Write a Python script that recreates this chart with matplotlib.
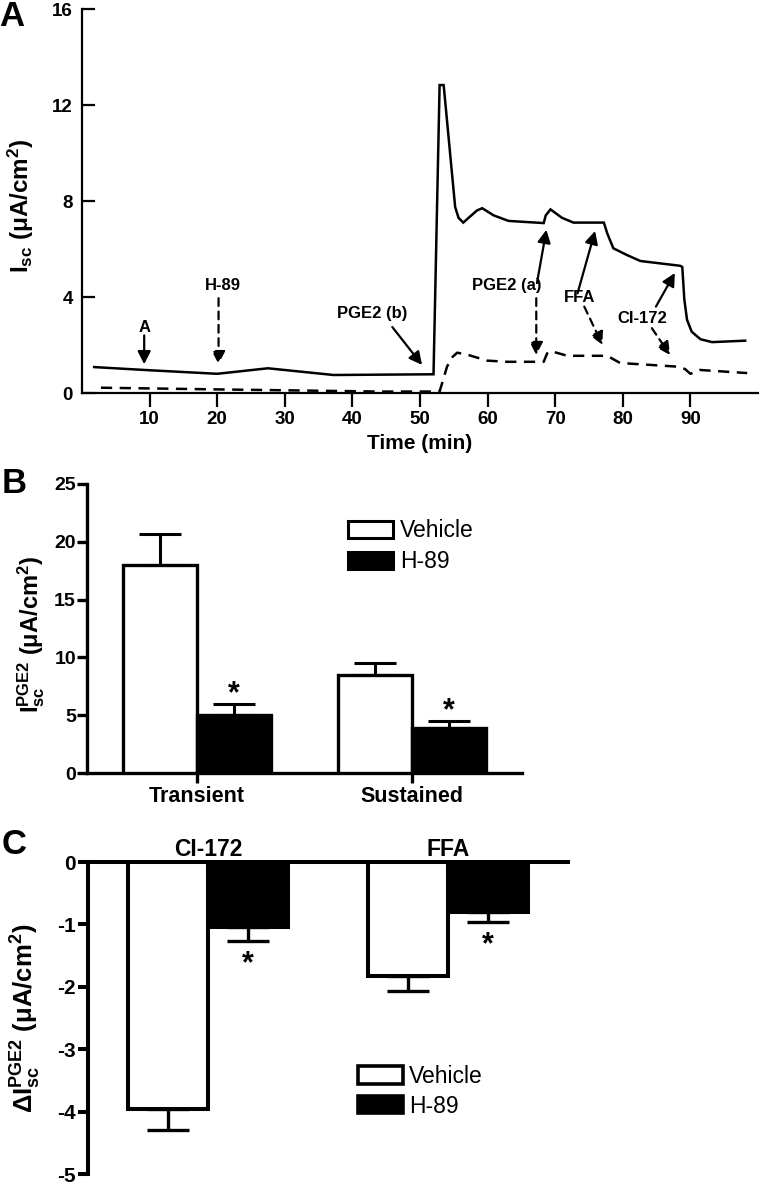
import matplotlib
matplotlib.use("Agg")
import matplotlib.pyplot as plt
from matplotlib.patches import Patch
import numpy as np

plt.rcParams['font.family'] = ['Liberation Sans', 'DejaVu Sans']
plt.rcParams['mathtext.fontset'] = 'custom'
plt.rcParams['mathtext.rm'] = 'Liberation Sans:bold'
plt.rcParams['mathtext.bf'] = 'Liberation Sans:bold'
plt.rcParams['mathtext.it'] = 'Liberation Sans:bold'
plt.rcParams['mathtext.sf'] = 'Liberation Sans:bold'
plt.rcParams['axes.unicode_minus'] = False

# ---------------- Data: panel A (traces) ----------------
solid_t = [1.8, 9.2, 20.0, 27.5, 37.2, 52.0, 52.9, 53.5, 55.2, 55.7, 56.4, 58.4, 59.2,
           60.9, 63.1, 68.3, 68.6, 69.3, 71.0, 72.7, 77.2, 77.7, 78.6, 80.6, 82.6,
           88.5, 88.8, 89.1, 89.5, 90.2, 91.5, 93.2, 98.1]
solid_v = [1.08, 0.96, 0.80, 1.03, 0.75, 0.78, 12.83, 12.83, 7.75, 7.3, 7.1, 7.6, 7.7,
           7.4, 7.17, 7.08, 7.4, 7.65, 7.3, 7.1, 7.1, 6.65, 6.03, 5.75, 5.5,
           5.3, 5.25, 3.9, 3.05, 2.55, 2.24, 2.12, 2.18]
dashed_t = [2.8, 20.0, 44.2, 52.9, 54.0, 54.8, 55.5, 57.2, 59.9, 62.9, 68.3, 68.8, 69.3,
            71.8, 77.7, 79.6, 88.0, 89.2, 90.0, 91.4, 98.4]
dashed_v = [0.22, 0.15, 0.06, 0.06, 1.1, 1.5, 1.68, 1.58, 1.35, 1.3, 1.3, 1.65, 1.75,
            1.55, 1.55, 1.25, 1.1, 1.0, 0.8, 0.96, 0.83]
a_xticks = [10, 20, 30, 40, 50, 60, 70, 80, 90]
a_yticks = [0, 4, 8, 12, 16]

# annotation labels: (text, t, value)
a_labels = [("A", 9.2, 2.75), ("H-89", 20.8, 4.46), ("PGE2 (b)", 43.0, 3.33),
            ("PGE2 (a)", 62.8, 4.46), ("FFA", 73.6, 4.0), ("CI-172", 82.9, 3.1)]
# arrows: (tail_t, tail_v, head_t, head_v, dashed)
a_arrows = [(9.2, 2.4, 9.2, 1.2, False),
            (20.2, 3.95, 20.2, 1.2, True),
            (45.9, 2.75, 50.3, 1.17, False),
            (67.3, 4.58, 68.7, 6.8, False),
            (67.2, 3.95, 67.2, 1.58, True),
            (73.3, 4.15, 75.9, 6.75, False),
            (74.3, 3.6, 77.0, 2.0, True),
            (84.9, 3.6, 87.7, 5.0, False),
            (84.3, 2.7, 87.0, 1.58, True)]

# ---------------- Data: panel B ----------------
b_categories = ["Transient", "Sustained"]
b_vehicle = [18.0, 8.5]
b_vehicle_err = [2.7, 1.05]
b_h89 = [5.0, 3.85]
b_h89_err = [1.0, 0.65]
b_yticks = [0, 5, 10, 15, 20, 25]

# ---------------- Data: panel C ----------------
c_categories = ["CI-172", "FFA"]
c_vehicle = [-3.96, -1.83]
c_vehicle_err = [0.34, 0.23]
c_h89 = [-1.04, -0.80]
c_h89_err = [0.22, 0.16]
c_yticks = [0, -1, -2, -3, -4, -5]

W, H = 759, 1186
fig = plt.figure(figsize=(W / 100, H / 100), dpi=100)

def px_axes(l, t, r, b):
    return fig.add_axes([l / W, 1 - b / H, (r - l) / W, (b - t) / H])

# ================= Panel A =================
axA = px_axes(82, 9, 758, 393)
axA.plot(solid_t, solid_v, color='black', lw=1.8, solid_joinstyle='miter')
axA.plot(dashed_t, dashed_v, color='black', lw=1.8, linestyle=(0, (4.5, 3)))
axA.set_xlim(0, 100)
axA.set_ylim(0, 16)
axA.set_xticks(a_xticks)
axA.set_yticks(a_yticks)
for s in ['top', 'right']:
    axA.spines[s].set_visible(False)
for s in ['left', 'bottom']:
    axA.spines[s].set_linewidth(1.6)
axA.tick_params(axis='y', direction='in', length=9.5, width=1.6, pad=6.5, labelsize=13.5)
axA.tick_params(axis='x', direction='out', length=10, width=1.6, pad=3, labelsize=13.5)
for lab in axA.get_xticklabels() + axA.get_yticklabels():
    lab.set_fontweight('bold')
axA.set_xlabel("Time (min)", fontsize=15, fontweight='bold', labelpad=4)
axA.set_ylabel(r"I$_{sc}$ (μA/cm$^{2}$)", fontsize=17.5, fontweight='bold')
axA.yaxis.set_label_coords(-0.068, 0.487)
for txt, tx, ty in a_labels:
    axA.text(tx, ty, txt, ha='center', va='center', fontsize=12, fontweight='bold')
for t0, v0, t1, v1, dashed in a_arrows:
    axA.annotate('', xy=(t1, v1), xytext=(t0, v0),
                 arrowprops=dict(arrowstyle='-|>,head_length=0.55,head_width=0.28',
                                 mutation_scale=14, lw=1.6, color='black',
                                 linestyle=(0, (3.5, 2.5)) if dashed else '-',
                                 shrinkA=0, shrinkB=0))

# ================= Panel B =================
axB = px_axes(87, 484, 522, 773)
xb = np.arange(len(b_categories))
wb = 0.345
axB.bar(xb - wb / 2, b_vehicle, width=wb, facecolor='white', edgecolor='black', lw=2.4,
        label='Vehicle', zorder=3)
axB.bar(xb + wb / 2, b_h89, width=wb, facecolor='black', edgecolor='black', lw=2.4,
        label='H-89', zorder=3)
axB.errorbar(xb - wb / 2, b_vehicle, yerr=[np.zeros(2), b_vehicle_err], fmt='none',
             ecolor='black', elinewidth=2.2, capsize=15, capthick=2.2, zorder=2)
axB.errorbar(xb + wb / 2, b_h89, yerr=[np.zeros(2), b_h89_err], fmt='none',
             ecolor='black', elinewidth=2.2, capsize=15, capthick=2.2, zorder=2)
for xi, v, e in zip(xb, b_h89, b_h89_err):
    axB.annotate('*', xy=(xi + wb / 2, v + e), xytext=(0, 1), textcoords='offset points',
                 ha='center', va='baseline', fontsize=22, fontweight='bold')
axB.set_xlim(-0.512, 1.512)
axB.set_ylim(0, 25)
axB.set_xticks(xb)
axB.set_xticklabels(b_categories)
axB.set_yticks(b_yticks)
for s in ['top', 'right']:
    axB.spines[s].set_visible(False)
for s in ['left', 'bottom']:
    axB.spines[s].set_linewidth(2.4)
axB.tick_params(axis='y', direction='out', length=7, width=2.4, pad=1, labelsize=14)
axB.tick_params(axis='x', direction='out', length=7, width=2.4, pad=2, labelsize=15.5)
for lab in axB.get_xticklabels() + axB.get_yticklabels():
    lab.set_fontweight('bold')
axB.set_ylabel(r"I$_{sc}^{PGE2}$ (μA/cm$^{2}$)", fontsize=17, fontweight='bold')
axB.yaxis.set_label_coords(-0.092, 0.479)
hB = [Patch(facecolor='white', edgecolor='black', lw=2.2),
      Patch(facecolor='black', edgecolor='black', lw=2.2)]
axB.legend(hB, ['Vehicle', 'H-89'], loc='upper left', bbox_to_anchor=(0.60, 0.878),
           frameon=False, fontsize=16.5, handlelength=1.96, handleheight=0.75,
           handletextpad=0.3, labelspacing=0.35, borderpad=0, borderaxespad=0)

# ================= Panel C =================
axC = px_axes(88, 862, 568, 1174)
xc = np.arange(len(c_categories))
wc = 0.333
axC.bar(xc - wc / 2, c_vehicle, width=wc, facecolor='white', edgecolor='black', lw=2.9,
        zorder=3)
axC.bar(xc + wc / 2, c_h89, width=wc, facecolor='black', edgecolor='black', lw=2.9,
        zorder=3)
axC.errorbar(xc - wc / 2, c_vehicle, yerr=[c_vehicle_err, np.zeros(2)], fmt='none',
             ecolor='black', elinewidth=2.4, capsize=14.8, capthick=2.4, zorder=2)
axC.errorbar(xc + wc / 2, c_h89, yerr=[c_h89_err, np.zeros(2)], fmt='none',
             ecolor='black', elinewidth=2.4, capsize=14.8, capthick=2.4, zorder=2)
for xi, v, e in zip(xc, c_h89, c_h89_err):
    axC.annotate('*', xy=(xi + wc / 2, v - e), xytext=(0, -22.5), textcoords='offset points',
                 ha='center', va='baseline', fontsize=22, fontweight='bold')
axC.set_xlim(-0.5, 1.5)
axC.set_ylim(-5, 0)
axC.xaxis.tick_top()
axC.set_xticks(xc)
axC.set_xticklabels(c_categories)
axC.set_yticks(c_yticks)
for s in ['bottom', 'right']:
    axC.spines[s].set_visible(False)
for s in ['left', 'top']:
    axC.spines[s].set_linewidth(2.9)
axC.tick_params(axis='y', direction='out', length=7, width=2.9, pad=2, labelsize=15)
axC.tick_params(axis='x', length=0, pad=1, labelsize=16.5)
for lab in axC.get_xticklabels() + axC.get_yticklabels():
    lab.set_fontweight('bold')
axC.set_ylabel(r"ΔI$_{sc}^{PGE2}$ (μA/cm$^{2}$)", fontsize=18.5, fontweight='bold')
axC.yaxis.set_label_coords(-0.094, 0.5)
hC = [Patch(facecolor='white', edgecolor='black', lw=2.6),
      Patch(facecolor='black', edgecolor='black', lw=2.6)]
axC.legend(hC, ['Vehicle', 'H-89'], loc='upper left', bbox_to_anchor=(0.5625, 0.35),
           frameon=False, fontsize=16.5, handlelength=1.96, handleheight=0.8,
           handletextpad=0.25, labelspacing=0.3, borderpad=0, borderaxespad=0)

# panel letters
for letter, x, y in [("A", 12, 17), ("B", 14, 483), ("C", 14, 845)]:
    fig.text(x / W, 1 - y / H, letter, ha='center', va='center', fontsize=25,
             fontweight='bold')

fig.savefig("out.png", dpi=100)
